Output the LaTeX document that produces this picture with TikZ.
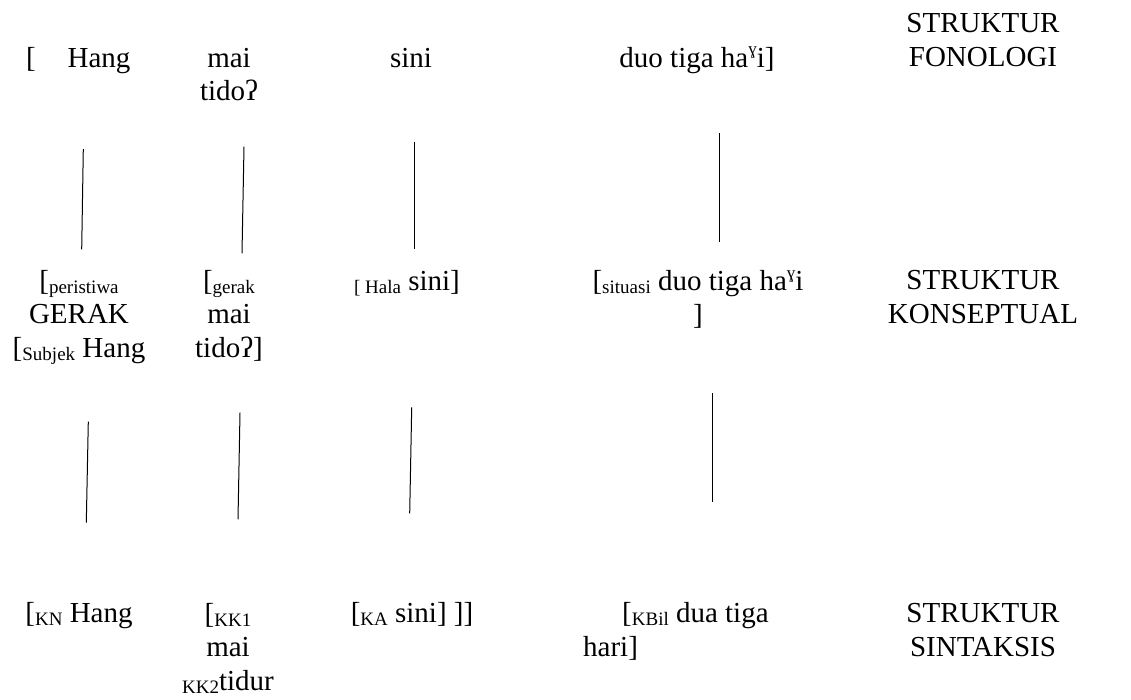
\documentclass[tikz,border=0pt]{standalone}
\usepackage{fontspec}
\setmainfont{Liberation Serif}
\newcommand{\lsub}[1]{\raisebox{-0.12em}{\fontsize{19}{20}\selectfont #1}}
\newcommand{\gsup}{\raisebox{0.42em}{\fontsize{17}{18}\selectfont ɣ}}
\begin{document}
\begin{tikzpicture}[x=1pt,y=-1pt,
  txt/.style={inner sep=0pt, anchor=base, align=center, font=\fontsize{29}{33.5}\selectfont},
  link/.style={line width=1pt, line cap=butt}]
\useasboundingbox (0,0) rectangle (1131,699);
% phonological row (anchor = baseline of last line)
\node[txt] (f0) at (31,67) {[};
\node[txt] (f1) at (99,67) {Hang};
\node[txt] (f2) at (229,100.5) {mai\\tidoʔ};
\node[txt] (f3) at (411,67) {sini};
\node[txt] (f4) at (697,67) {duo tiga ha\gsup i]};
\node[txt] (fl) at (983,66) {STRUKTUR\\FONOLOGI};
% conceptual row
\node[txt] (k1) at (79,357) {[\lsub{peristiwa}\\GERAK\\{}[\lsub{Subjek} Hang};
\node[txt] (k2) at (229,357) {[\lsub{gerak}\\mai\\tidoʔ]};
\node[txt] (k3) at (407,290) {\lsub{[ Hala} sini]};
\node[txt] (k4) at (698,324) {[\lsub{situasi} duo tiga ha\gsup i\\{}]};
\node[txt] (kl) at (983,323) {STRUKTUR\\KONSEPTUAL};
% syntactic row
\node[txt] (s1) at (79,622) {[\lsub{KN} Hang};
\node[txt] (s2) at (228,690) {[\lsub{KK1}\\mai\\\lsub{KK2}tidur};
\node[txt] (s3) at (412,622) {[\lsub{KA} sini] ]]};
\node[txt, anchor=base west, align=left] (s4) at (583,656) {\hspace*{39pt}[\lsub{KBil} dua tiga\\hari]};
\node[txt] (sl) at (983,656) {STRUKTUR\\SINTAKSIS};
% connectors
\coordinate (a1) at (83.3,149);   \coordinate (b1) at (81.7,249.3);
\coordinate (a2) at (244,146.7);  \coordinate (b2) at (242,253.3);
\coordinate (a3) at (414,141.7);  \coordinate (b3) at (414,249.3);
\coordinate (a4) at (719.3,133.3);\coordinate (b4) at (719.3,241.7);
\coordinate (c1) at (88.3,421.7); \coordinate (d1) at (86.3,522.7);
\coordinate (c2) at (240,412.7);  \coordinate (d2) at (238,519.3);
\coordinate (c3) at (411.7,407.3);\coordinate (d3) at (409.7,513.3);
\coordinate (c4) at (712.3,393.3);\coordinate (d4) at (712.3,501.7);
\draw[link] (a1) -- (b1);
\draw[link] (a2) -- (b2);
\draw[link] (a3) -- (b3);
\draw[link] (a4) -- (b4);
\draw[link] (c1) -- (d1);
\draw[link] (c2) -- (d2);
\draw[link] (c3) -- (d3);
\draw[link] (c4) -- (d4);
\end{tikzpicture}
\end{document}
